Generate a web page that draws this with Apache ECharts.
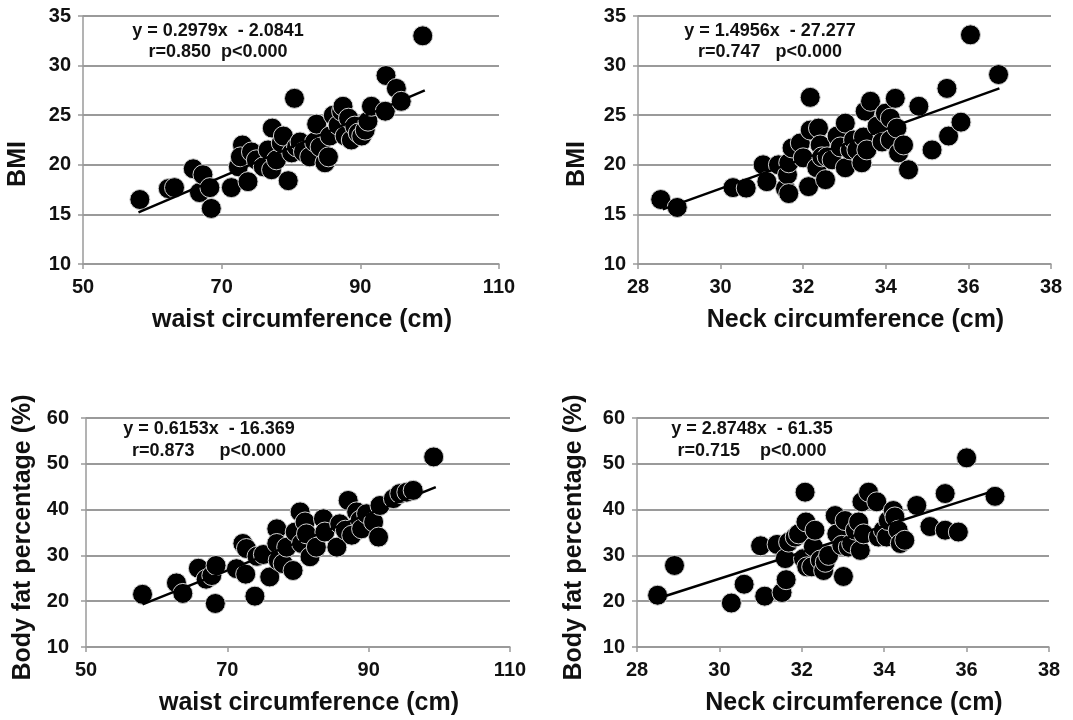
<!DOCTYPE html>
<html>
<head>
<meta charset="utf-8">
<script src="https://cdn.jsdelivr.net/npm/echarts@6/dist/echarts.min.js"></script>
<style>
  html, body { margin: 0; padding: 0; background: #fff; }
  #chart { width: 1073px; height: 720px; }
</style>
</head>
<body>
<div id="chart"></div>
<script>
// waist (cm) vs BMI
var waistBmi = [
  [58.2,16.5],[62.3,17.6],[63.2,17.7],[65.9,19.6],[66.8,17.2],[67.3,19.0],[68.3,17.7],[68.5,15.6],
  [71.4,17.7],[72.4,19.8],[73.0,22.0],[72.7,20.8],[73.8,18.3],[74.3,21.3],[75.0,20.5],[76.0,19.8],
  [76.7,21.5],[77.2,19.5],[77.3,23.7],[77.9,20.5],[78.6,22.2],[78.9,22.9],[79.6,18.4],[80.1,21.2],
  [80.5,26.7],[80.8,21.8],[81.3,22.3],[81.8,21.3],[82.7,20.8],[83.4,22.3],[83.7,24.1],[84.2,21.8],
  [84.9,20.2],[85.4,20.8],[85.6,22.9],[86.1,25.0],[86.8,24.0],[87.3,25.4],[87.5,25.9],[87.8,22.9],
  [88.3,24.7],[88.7,22.5],[89.2,23.9],[89.7,23.2],[90.2,22.9],[90.7,23.5],[91.1,24.4],[91.6,25.9],
  [93.6,25.4],[93.7,29.0],[95.2,27.7],[95.9,26.4],[99.0,33.0]
];
// neck (cm) vs BMI
var neckBmi = [
  [28.55,16.5],[28.95,15.7],[30.3,17.7],[30.62,17.65],[31.03,20.0],[31.12,18.3],[31.4,20.0],[31.57,17.6],
  [31.62,19.0],[31.65,17.1],[31.65,20.2],[31.73,21.7],[31.93,22.2],[32.0,20.7],[32.13,17.8],[32.17,26.8],
  [32.17,23.5],[32.37,23.7],[32.33,19.7],[32.41,22.0],[32.45,20.8],[32.54,18.5],[32.58,20.8],[32.7,20.5],
  [32.82,22.9],[32.9,21.8],[33.02,24.2],[33.02,19.7],[33.14,21.5],[33.22,22.5],[33.3,21.5],[33.42,20.2],
  [33.46,22.8],[33.5,25.4],[33.54,21.5],[33.63,26.4],[33.79,23.9],[33.91,22.3],[33.99,25.2],[34.11,24.7],
  [34.11,22.5],[34.23,26.7],[34.27,23.7],[34.31,21.2],[34.43,22.0],[34.55,19.5],[34.8,25.9],[35.12,21.5],
  [35.48,27.7],[35.52,22.9],[35.82,24.3],[36.05,33.1],[36.73,29.1]
];
// waist (cm) vs body fat (%)
var waistFat = [
  [58.0,21.5],[62.8,24.0],[63.7,21.7],[65.9,27.2],[67.0,24.8],[67.8,25.6],[68.4,27.8],[68.3,19.5],
  [71.3,27.1],[72.2,32.6],[72.7,31.5],[72.6,25.9],[73.9,21.1],[74.2,29.8],[75.1,30.2],[76.0,25.3],
  [77.0,35.8],[77.0,32.6],[77.2,28.9],[77.9,28.2],[78.4,31.8],[79.3,26.7],[79.6,35.1],[80.3,39.5],
  [80.5,32.6],[81.0,37.3],[81.2,34.7],[81.7,29.7],[82.6,31.8],[83.6,38.0],[83.8,35.1],[85.5,31.8],
  [85.9,36.9],[86.7,35.5],[87.1,42.0],[87.6,34.4],[88.3,39.5],[88.8,37.7],[89.0,35.8],[89.7,39.1],
  [90.7,37.3],[91.4,34.0],[91.6,40.9],[93.5,42.4],[94.4,43.5],[95.4,43.8],[96.3,44.2],[99.2,51.5]
];
// neck (cm) vs body fat (%)
var neckFat = [
  [28.5,21.3],[28.91,27.8],[30.29,19.6],[30.6,23.7],[31.0,32.1],[31.1,21.1],[31.4,32.4],[31.52,21.9],
  [31.6,29.3],[31.62,24.7],[31.68,32.9],[31.84,34.0],[31.92,34.7],[32.04,29.3],[32.08,43.8],[32.1,37.3],
  [32.12,27.5],[32.24,27.5],[32.28,31.9],[32.32,35.5],[32.45,29.0],[32.53,26.7],[32.57,28.5],[32.65,30.0],
  [32.81,38.7],[32.85,34.7],[32.97,32.2],[33.01,25.4],[33.05,37.6],[33.13,31.8],[33.21,32.6],[33.3,35.5],
  [33.38,37.3],[33.42,31.1],[33.46,41.7],[33.5,34.7],[33.62,43.8],[33.82,41.7],[33.86,34.0],[33.98,35.5],
  [34.06,34.0],[34.1,37.6],[34.22,39.8],[34.26,38.4],[34.34,35.5],[34.39,32.6],[34.5,33.3],[34.79,40.9],
  [35.11,36.3],[35.48,43.5],[35.48,35.5],[35.8,35.1],[36.0,51.3],[36.69,42.9]
];
// fitted line end points
var trendWaistBmi = [[58.0,15.2],[99.3,27.5]];
var trendNeckBmi = [[28.6,15.5],[36.75,27.7]];
var trendWaistFat = [[58.0,19.3],[99.5,44.9]];
var trendNeckFat = [[28.5,20.6],[36.7,44.2]];

var equations = [
  ['y = 0.2979x  - 2.0841', 'r=0.850  p<0.000'],
  ['y = 1.4956x  - 27.277', 'r=0.747   p<0.000'],
  ['y = 0.6153x  - 16.369', 'r=0.873     p<0.000'],
  ['y = 2.8748x  - 61.35', 'r=0.715    p<0.000']
];
var xNames = ['waist circumference (cm)', 'Neck circumference (cm)', 'waist circumference (cm)', 'Neck circumference (cm)'];
var yNames = ['BMI', 'BMI', 'Body fat percentage (%)', 'Body fat percentage (%)'];

var FONT = '"Liberation Sans", Arial, sans-serif';
var grids = [
  {left: 83, top: 16, width: 416, height: 248},
  {left: 638, top: 16, width: 413, height: 248},
  {left: 86, top: 418, width: 424, height: 229},
  {left: 637, top: 418, width: 412, height: 229}
];
var xRanges = [[50,110,20],[28,38,2],[50,110,20],[28,38,2]];
var yRanges = [[10,35,5],[10,35,5],[10,60,10],[10,60,10]];
var yNamePad = [[0,48,0,0],[0,48,0,0],[0,10,0,0],[0,10,0,0]];
var yNameGap = [52, 48, 50, 50];
var yLabelMargin = [12, 12, 17, 12];

var xAxes = [], yAxes = [];
for (var i = 0; i < 4; i++) {
  xAxes.push({
    type: 'value', gridIndex: i,
    min: xRanges[i][0], max: xRanges[i][1], interval: xRanges[i][2],
    name: xNames[i], nameLocation: 'middle', nameGap: 44,
    nameTextStyle: {fontFamily: FONT, fontWeight: 'bold', fontSize: 25, color: '#111', padding: [0,0,0,22]},
    axisLine: {lineStyle: {color: '#9a9a9a', width: 1.5}},
    axisTick: {show: true, length: 5, lineStyle: {color: '#9a9a9a', width: 1.5}},
    axisLabel: {fontFamily: FONT, fontWeight: 'bold', fontSize: 20, color: '#111', margin: 13},
    splitLine: {show: false}
  });
  yAxes.push({
    type: 'value', gridIndex: i,
    min: yRanges[i][0], max: yRanges[i][1], interval: yRanges[i][2],
    name: yNames[i], nameLocation: 'middle', nameGap: yNameGap[i],
    nameTextStyle: {fontFamily: FONT, fontWeight: 'bold', fontSize: 25, color: '#111', padding: yNamePad[i]},
    axisLine: {show: true, lineStyle: {color: '#9a9a9a', width: 1.5}},
    axisTick: {show: true, length: 5, lineStyle: {color: '#9a9a9a', width: 1.5}},
    axisLabel: {fontFamily: FONT, fontWeight: 'bold', fontSize: 20, color: '#111', margin: yLabelMargin[i]},
    splitLine: {show: true, lineStyle: {color: '#9a9a9a', width: 1.8}}
  });
}

var scatterData = [waistBmi, neckBmi, waistFat, neckFat];
var trendData = [trendWaistBmi, trendNeckBmi, trendWaistFat, trendNeckFat];
var series = [];
for (var k = 0; k < 4; k++) {
  series.push({
    type: 'line', xAxisIndex: k, yAxisIndex: k, data: trendData[k],
    showSymbol: false, symbol: 'none', z: 3,
    lineStyle: {color: '#000', width: 2.5}, silent: true
  });
  series.push({
    type: 'scatter', xAxisIndex: k, yAxisIndex: k, data: scatterData[k],
    symbolSize: 20, z: 2,
    itemStyle: {color: '#000', borderColor: '#d0d0d0', borderWidth: 1, opacity: 1}
  });
}

var eqPos = [[218,31,52],[770,31,52],[209,429,451],[752,429,451]];
var graphic = [];
for (var g = 0; g < 4; g++) {
  graphic.push({
    type: 'text', x: eqPos[g][0], y: eqPos[g][1], z: 10,
    style: {text: equations[g][0], font: 'bold 18px ' + FONT, fill: '#111', textAlign: 'center', textVerticalAlign: 'middle'}
  });
  graphic.push({
    type: 'text', x: eqPos[g][0], y: eqPos[g][2], z: 10,
    style: {text: equations[g][1], font: 'bold 18px ' + FONT, fill: '#111', textAlign: 'center', textVerticalAlign: 'middle'}
  });
}

var myChart = echarts.init(document.getElementById('chart'));
myChart.setOption({
  animation: false,
  backgroundColor: '#fff',
  grid: grids,
  xAxis: xAxes,
  yAxis: yAxes,
  series: series,
  graphic: graphic
});
</script>
</body>
</html>
